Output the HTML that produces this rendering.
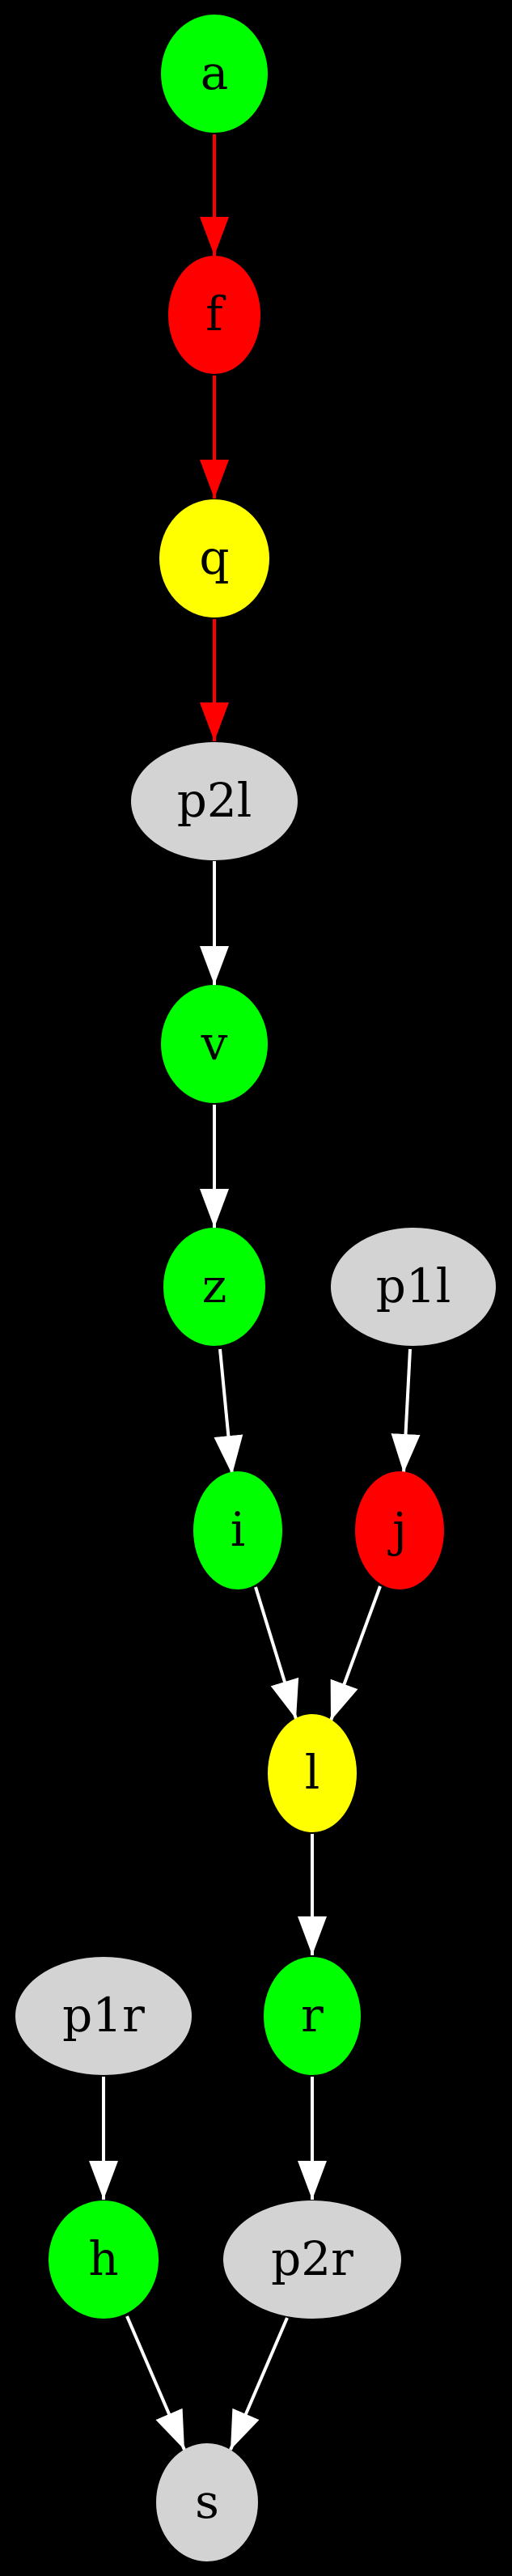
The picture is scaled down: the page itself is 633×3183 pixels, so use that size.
<!DOCTYPE html>
<html><head><meta charset="utf-8"><style>
html,body{margin:0;padding:0;background:#000;}
svg{display:block;}
text{font-family:"DejaVu Serif","Liberation Serif",serif;font-size:58px;fill:#000;text-anchor:middle;}
</style></head><body>
<svg width="633" height="3183" viewBox="0 0 633 3183" xmlns="http://www.w3.org/2000/svg">
<defs>
<marker id="ar" markerUnits="userSpaceOnUse" viewBox="0 0 48 36" markerWidth="48" markerHeight="36" refX="48" refY="18" orient="auto"><path d="M0,0 L48,18 L0,36 Z" fill="#f00"/></marker>
<marker id="aw" markerUnits="userSpaceOnUse" viewBox="0 0 48 36" markerWidth="48" markerHeight="36" refX="48" refY="18" orient="auto"><path d="M0,0 L48,18 L0,36 Z" fill="#fff"/></marker>
</defs>
<rect width="633" height="3183" fill="#000"/>
<g stroke="#f00" stroke-width="4" marker-end="url(#ar)">
<line x1="265" y1="166" x2="265" y2="316"/>
<line x1="265" y1="464" x2="265" y2="616"/>
<line x1="265" y1="765" x2="265" y2="916"/>
</g>
<g stroke="#fff" stroke-width="4" marker-end="url(#aw)">
<line x1="265" y1="1064" x2="265" y2="1217"/>
<line x1="265" y1="1365" x2="265" y2="1517"/>
<line x1="272" y1="1667" x2="287" y2="1822"/>
<line x1="507" y1="1667" x2="499" y2="1820"/>
<line x1="316" y1="1961" x2="366" y2="2124"/>
<line x1="470" y1="1960" x2="409" y2="2126"/>
<line x1="386" y1="2266" x2="386" y2="2416"/>
<line x1="128" y1="2566" x2="128" y2="2718"/>
<line x1="386" y1="2566" x2="386" y2="2718"/>
<line x1="157" y1="2862" x2="228" y2="3027"/>
<line x1="355" y1="2864" x2="285" y2="3027"/>
</g>
<ellipse cx="265" cy="91" rx="66" ry="73" fill="#0f0"/><text x="265" y="110">a</text>
<ellipse cx="265" cy="389" rx="57" ry="73" fill="#f00"/><text x="265" y="408">f</text>
<ellipse cx="265" cy="690" rx="68" ry="73" fill="#ff0"/><text x="265" y="709">q</text>
<ellipse cx="265" cy="990" rx="103" ry="73" fill="#d3d3d3"/><text x="265" y="1009">p2l</text>
<ellipse cx="265" cy="1290" rx="66" ry="73" fill="#0f0"/><text x="265" y="1309">v</text>
<ellipse cx="265" cy="1590" rx="63" ry="73" fill="#0f0"/><text x="265" y="1609">z</text>
<ellipse cx="511" cy="1590" rx="102" ry="73" fill="#d3d3d3"/><text x="511" y="1609">p1l</text>
<ellipse cx="294" cy="1891" rx="55" ry="73" fill="#0f0"/><text x="294" y="1910">i</text>
<ellipse cx="494" cy="1891" rx="55" ry="73" fill="#f00"/><text x="494" y="1910">j</text>
<ellipse cx="386" cy="2191" rx="55" ry="73" fill="#ff0"/><text x="386" y="2210">l</text>
<ellipse cx="128" cy="2491" rx="109" ry="73" fill="#d3d3d3"/><text x="128" y="2510">p1r</text>
<ellipse cx="386" cy="2491" rx="60" ry="73" fill="#0f0"/><text x="386" y="2510">r</text>
<ellipse cx="128" cy="2792" rx="68" ry="73" fill="#0f0"/><text x="128" y="2811">h</text>
<ellipse cx="386" cy="2792" rx="110" ry="73" fill="#d3d3d3"/><text x="386" y="2811">p2r</text>
<ellipse cx="256" cy="3092" rx="63" ry="73" fill="#d3d3d3"/><text x="256" y="3111">s</text>
</svg>
</body></html>
